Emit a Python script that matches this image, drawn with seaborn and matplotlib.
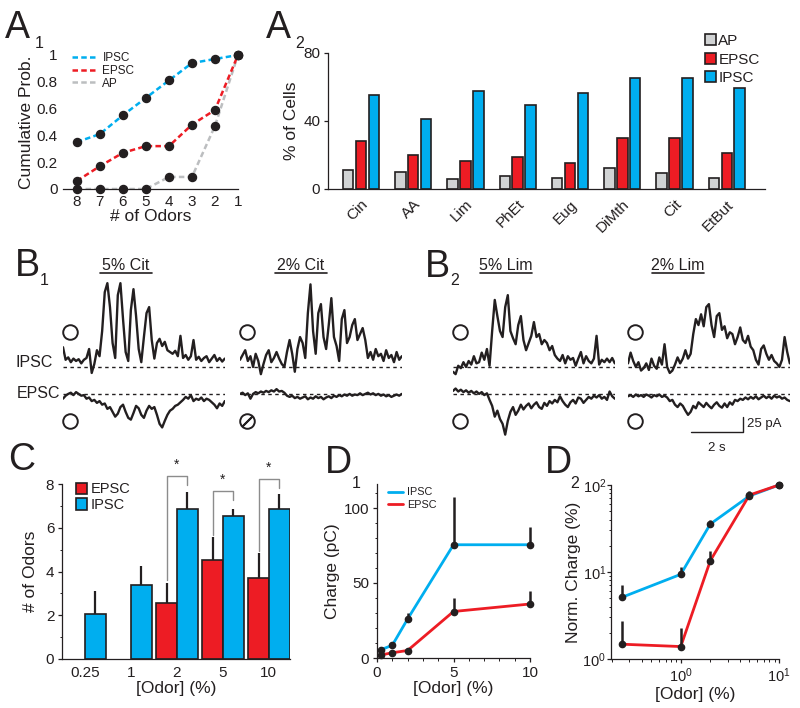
"""
Odor-evoked IPSC / EPSC responses: panels A1-D2.
"""
import numpy as np
import pandas as pd
import matplotlib
matplotlib.use("Agg")
import matplotlib.pyplot as plt
from matplotlib.patches import Patch
from matplotlib.lines import Line2D
from matplotlib.ticker import MultipleLocator, NullFormatter
import seaborn as sns

# ── Colours ────────────────────────────────────────────────────────────────
INK = "#231F20"
C_IPSC = "#00AEEF"
C_EPSC = "#ED1C24"
C_AP = "#D1D3D4"
C_AP_LINE = "#BCBEC0"
C_BRACKET = "#8C8C8C"

# ── A1: cumulative probability vs # of odors ───────────────────────────────
n_odors = [8, 7, 6, 5, 4, 3, 2, 1]
cum_ipsc = [0.35, 0.41, 0.55, 0.68, 0.81, 0.94, 0.97, 1.0]
cum_epsc = [0.06, 0.17, 0.27, 0.32, 0.32, 0.48, 0.59, 1.0]
cum_ap = [0.0, 0.0, 0.0, 0.0, 0.09, 0.09, 0.47, 1.0]

# ── A2: % of responding cells per odor ─────────────────────────────────────
odors = ["Cin", "AA", "Lim", "PhEt", "Eug", "DiMth", "Cit", "EtBut"]
pct_ap = [11, 9.8, 6.1, 7.5, 6.5, 12.2, 9.2, 6.5]
pct_epsc = [28.4, 20.2, 16.7, 19, 15.1, 29.8, 29.8, 21.2]
pct_ipsc = [55, 41.2, 57.5, 49.2, 56.3, 65.1, 65.1, 59.2]

# ── B: example traces (pA, one value every 0.1 s) ──────────────────────────
TRACE_DT = 0.1
cit5_ipsc = [33, 12, 16, 8, 14, 10, 13, 6, 12, 15, 30, -10, 5, 28, 18, 60,
             125, 140, 100, 40, 15, 120, 140, 80, 25, 10, 95, 130, 85, 30, 8,
             50, 90, 100, 45, 14, 40, 47, 35, 42, 28, 25, 22, 27, 18, 52, 15,
             20, 12, 18, 45, 12, 17, 10, 15, 18, 8, 14, 20, 10, 15, 9, 14]
cit5_epsc = [-8, -3, 0, 2, -2, 3, 0, -3, -2, -8, -6, -12, -10, -15, -12, -18,
             -16, -25, -22, -30, -38, -33, -22, -18, -30, -40, -43, -32, -20,
             -24, -35, -40, -28, -20, -25, -22, -35, -50, -56, -45, -35, -28,
             -25, -20, -18, -14, -10, -5, -8, -2, -12, -8, -10, -6, -12, -8,
             -10, -14, -18, -24, -16, -20, -12]
cit2_ipsc = [12, 20, 28, 10, 18, 0, 22, 10, -12, 5, 20, 28, 8, 15, 25, 14, 5,
             0, 25, 45, 22, -8, 30, 50, 40, 15, 90, 138, 60, 22, 90, 105, 50,
             30, 70, 115, 50, 35, 10, 80, 95, 40, 50, 70, 80, 45, 55, 65, 45,
             15, 25, 12, 30, 18, 22, 10, 28, 15, 20, 8, 25, 12, 18]
cit2_epsc = [0, 2, -2, 1, -8, 0, 3, 1, 4, 2, 5, 3, 6, 4, 8, 4, 5, 2, -3, -5,
             -3, -7, -5, -8, -6, -4, -9, -6, -8, -4, -7, -5, -9, -6, -4, -7,
             -3, -5, -2, -4, -1, -3, 0, -3, -1, -2, 1, -2, 0, 2, -1, 1, -2, 0,
             -3, -1, -4, -2, -5, -3, -1, -3, 0]
lim5_ipsc = [-8, -12, 2, -2, 8, 0, 10, 4, 18, 6, 8, 24, 12, 30, 2, 60, 112,
             85, 60, 50, 100, 120, 60, 48, 38, 70, 85, 45, 28, 40, 52, 75, 50,
             55, 38, 45, 40, 28, 35, 20, 14, 10, 20, 6, 18, 12, 15, 2, 14, 25,
             6, 18, 10, 6, 14, 52, 4, 12, 8, 14, 8, 15, 6]
lim5_epsc = [5, 9, 4, 7, 3, 6, 2, 5, 1, 4, 0, 3, -2, 1, -10, -20, -38, -28,
             -42, -50, -68, -45, -30, -22, -35, -28, -18, -26, -20, -16, -24,
             -18, -14, -22, -25, -15, -20, -12, -16, -10, -14, -4, -12, -18,
             -22, -14, -10, -16, -6, -8, -15, -10, -5, -8, -3, -6, -2, -8, -5,
             -10, 4, -4, -8]
lim2_ipsc = [6, 24, 10, 0, 8, -6, -2, 6, -5, 14, 2, -3, 16, 4, 38, 0, -10, -6,
             4, 16, 6, 14, 28, 14, 22, 55, 80, 70, 88, 68, 100, 105, 70, 50,
             85, 90, 62, 68, 48, 58, 55, 38, 50, 66, 45, 40, 52, 34, 28, 12, 4,
             30, 36, 22, 12, 20, 10, 6, 0, 12, 50, 25, 6]
lim2_epsc = [-4, -2, -5, -1, -4, -2, -5, -1, -3, -6, -2, -4, -1, -5, -3, -6,
             -12, -10, -18, -22, -16, -20, -28, -35, -30, -20, -24, -14, -18,
             -22, -15, -20, -24, -18, -14, -20, -23, -16, -22, -14, -18, -10,
             -12, -8, -10, -6, -9, -5, -8, -4, -9, -6, -3, -7, -4, -8, -3, -6,
             -4, -8, -6, -10, -12]

# ── C: # of odors evoking a response vs concentration ─────────────────────
conc_labels = ["0.25", "1", "2", "5", "10"]
c_epsc = [np.nan, np.nan, 2.55, 4.53, 3.72]
c_epsc_err = [np.nan, np.nan, 0.92, 1.03, 1.12]
c_ipsc = [2.05, 3.37, 6.87, 6.52, 6.87]
c_ipsc_err = [1.06, 0.86, 0.76, 0.33, 0.67]

# ── D: charge vs concentration ─────────────────────────────────────────────
conc = [0.25, 1, 2, 5, 10]
d1_ipsc = [5.5, 8.5, 26, 75.5, 75.5]
d1_ipsc_err = [1.5, 2.5, 4.2, 32, 12]
d1_epsc = [2, 3.5, 5, 31, 36]
d1_epsc_err = [1, 1.5, 1.5, 9, 9]
d2_ipsc = [5.1, 9.4, 35.6, 74.8, 100]
d2_ipsc_err = [2.0, 1.9, 4.1, 8, 0]
d2_epsc = [1.48, 1.39, 13.5, 76.7, 100]
d2_epsc_err = [1.28, 0.86, 3.9, 8.3, 0]

# ── Style ──────────────────────────────────────────────────────────────────
sns.set_theme(style="ticks")
plt.rcParams["font.family"] = ["Liberation Sans", "DejaVu Sans"]
plt.rcParams.update({
    "axes.edgecolor": INK, "axes.linewidth": 0.9, "axes.labelcolor": INK,
    "text.color": INK, "xtick.color": INK, "ytick.color": INK,
    "xtick.labelsize": 11, "ytick.labelsize": 11, "axes.labelsize": 12.5,
    "xtick.major.size": 3, "ytick.major.size": 3,
    "xtick.minor.size": 1.8, "ytick.minor.size": 1.8,
    "xtick.major.width": 0.9, "ytick.major.width": 0.9,
    "xtick.minor.width": 0.7, "ytick.minor.width": 0.7,
    "xtick.major.pad": 2.5, "ytick.major.pad": 2.5,
    "legend.frameon": False,
})

W, H = 800, 708
fig = plt.figure(figsize=(W / 100, H / 100), dpi=100)


def px_axes(left, top, right, bottom):
    return fig.add_axes([left / W, 1 - bottom / H, (right - left) / W, (bottom - top) / H])


def panel_label(x, y, letter, sub=None, sub_xy=None):
    fig.text(x / W, 1 - y / H, letter, fontsize=27, va="baseline")
    if sub:
        fig.text(sub_xy[0] / W, 1 - sub_xy[1] / H, sub, fontsize=11.5, va="baseline")


# ── A1 ─────────────────────────────────────────────────────────────────────
ax = px_axes(63, 55, 238, 189)
for vals, col in [(cum_ap, C_AP_LINE), (cum_epsc, C_EPSC), (cum_ipsc, C_IPSC)]:
    ax.plot(n_odors, vals, color=col, lw=1.8, ls=(0, (2.2, 1.3)), zorder=2)
    ax.plot(n_odors, vals, ls="none", marker="o", ms=5.8, color=INK, zorder=3, clip_on=False)
ax.set_xlim(8.6, 1)
ax.set_ylim(0, 1)
ax.set_xticks(n_odors)
ax.set_yticks([0, 0.2, 0.4, 0.6, 0.8, 1.0])
ax.set_yticklabels(["0", "0.2", "0.4", "0.6", "0.8", "1"])
ax.tick_params(length=0, pad=4)
ax.set_xlabel("# of Odors", labelpad=0)
ax.set_ylabel("Cumulative Prob.", labelpad=2)
sns.despine(ax=ax, left=True)
handles = [Line2D([], [], color=c, lw=1.8, ls=(0, (2.2, 1.3))) for c in (C_IPSC, C_EPSC, C_AP_LINE)]
ax.legend(handles, ["IPSC", "EPSC", "AP"], loc="upper left", bbox_to_anchor=(0.05, 1.02),
          fontsize=8.5, handlelength=2.2, handletextpad=0.4, labelspacing=0.05,
          borderpad=0, borderaxespad=0)

# ── A2 ─────────────────────────────────────────────────────────────────────
ax = px_axes(328, 53, 765, 189)
df_a2 = pd.DataFrame({
    "odor": odors * 3,
    "type": ["AP"] * len(odors) + ["EPSC"] * len(odors) + ["IPSC"] * len(odors),
    "pct": pct_ap + pct_epsc + pct_ipsc,
})
palette = {"AP": C_AP, "EPSC": C_EPSC, "IPSC": C_IPSC}
sns.barplot(data=df_a2, x="odor", y="pct", hue="type", hue_order=["AP", "EPSC", "IPSC"],
            order=odors, palette=palette, saturation=1, width=0.74, gap=0.18,
            edgecolor=INK, linewidth=1.2, errorbar=None, legend=False, ax=ax)
ax.set_xlim(-0.63, 7.73)
ax.set_ylim(0, 80)
ax.set_yticks([0, 40, 80])
ax.set_xlabel("")
ax.set_ylabel("% of Cells", labelpad=3)
ax.set_xticks(range(len(odors)))
ax.set_xticklabels(odors, rotation=45, ha="right", rotation_mode="anchor")
ax.tick_params(axis="x", length=0, pad=6)
sns.despine(ax=ax)
ax.legend([Patch(facecolor=palette[k], edgecolor=INK, lw=1.2) for k in palette], list(palette),
          loc="upper left", bbox_to_anchor=(0.862, 1.14), fontsize=11,
          handlelength=0.75, handleheight=0.75, handletextpad=0.15,
          labelspacing=0.3, borderpad=0, borderaxespad=0)

# ── B: traces ──────────────────────────────────────────────────────────────
EPSC_SHIFT = -45
PX_PER_S = 26.1
trace_panels = [
    (63, cit5_ipsc, cit5_epsc, 1.42, "5% Cit", False),
    (240, cit2_ipsc, cit2_epsc, 1.34, "2% Cit", True),
    (453, lim5_ipsc, lim5_epsc, 1.03, "5% Lim", False),
    (628, lim2_ipsc, lim2_epsc, 0.92, "2% Lim", False),
]
trace_axes = []
for left, ipsc, epsc, onset, label, no_epsc in trace_panels:
    ax = px_axes(left, 270, left + 6.2 * PX_PER_S, 440)
    ax.set_xlim(0, 6.2)
    ax.set_ylim(-122, 162)
    ax.axis("off")
    ax.axhline(0, color=INK, lw=1.0, ls=(0, (2.5, 2.5)), zorder=1)
    ax.axhline(EPSC_SHIFT, color=INK, lw=1.0, ls=(0, (2.5, 2.5)), zorder=1)
    t_i = np.arange(len(ipsc)) * TRACE_DT
    t_e = np.arange(len(epsc)) * TRACE_DT
    ax.plot(t_i, ipsc, color=INK, lw=1.7, zorder=2)
    ax.plot(t_e, np.array(epsc) + EPSC_SHIFT, color=INK, lw=1.7, zorder=2)
    # odor application bar
    ax.plot([onset, onset + 2.0], [157, 157], color=INK, lw=1.2, clip_on=False)
    ax.text(onset + 1.0, 162, label, ha="center", va="baseline", fontsize=11.5)
    # response markers
    ax.plot(0.27, 58, marker="o", ms=10.5, mfc="none", mec=INK, mew=1.4, clip_on=False)
    ax.plot(0.27, -90, marker="o", ms=10.5, mfc="none", mec=INK, mew=1.4, clip_on=False)
    if no_epsc:
        ax.plot(0.27, -90, marker=(2, 2, -45), ms=10.5, mec=INK, mew=1.4, clip_on=False)
    trace_axes.append(ax)

ax = trace_axes[0]
ax.text(-0.38, 8, "IPSC", ha="right", va="center", fontsize=11.5)
ax.text(-0.12, -45, "EPSC", ha="right", va="center", fontsize=11.5)

# scale bar: 2 s / 25 pA
ax = trace_axes[3]
ax.plot([2.41, 4.41, 4.41], [-108, -108, -83], color=INK, lw=1.0, clip_on=False)
ax.text(4.55, -95, "25 pA", ha="left", va="center", fontsize=9.5)
ax.text(3.41, -141, "2 s", ha="center", va="baseline", fontsize=9.5)

# ── C ──────────────────────────────────────────────────────────────────────
ax = px_axes(62, 484, 290, 659)
df_c = pd.DataFrame({
    "conc": conc_labels * 2,
    "type": ["EPSC"] * len(conc_labels) + ["IPSC"] * len(conc_labels),
    "n": c_epsc + c_ipsc,
})
sns.barplot(data=df_c, x="conc", y="n", hue="type", hue_order=["EPSC", "IPSC"],
            order=conc_labels, palette={"EPSC": C_EPSC, "IPSC": C_IPSC}, saturation=1,
            width=0.9, gap=0, edgecolor=INK, linewidth=1.2, errorbar=None,
            legend=False, ax=ax)
errs = {"EPSC": c_epsc_err, "IPSC": c_ipsc_err}
centers = {}
for hue, cont in zip(["EPSC", "IPSC"], ax.containers):
    for bar in cont:
        h = bar.get_height()
        if not np.isfinite(h) or h == 0:
            continue
        xc = bar.get_x() + bar.get_width() / 2
        k = int(round(xc))
        centers[(hue, k)] = xc
        e = errs[hue][k]
        if np.isfinite(e):
            ax.vlines(xc, h, h + e, color=INK, lw=1.6, zorder=1)
# significance brackets (top, left-leg bottom, right-leg bottom)
brackets = {2: (8.38, 3.6, 7.97), 3: (7.66, 5.65, 7.28), 4: (8.24, 4.95, 7.8)}
for k, (top, lb, rb) in brackets.items():
    xl, xr = centers[("EPSC", k)], centers[("IPSC", k)]
    ax.plot([xl, xl, xr, xr], [lb, top, top, rb], color=C_BRACKET, lw=1.0, clip_on=False)
    ax.text((xl + xr) / 2, top + 0.2, "*", ha="center", va="bottom", fontsize=10)
ax.set_xlim(-0.5, 4.46)
ax.set_ylim(0, 8)
ax.set_yticks([0, 2, 4, 6, 8])
ax.yaxis.set_minor_locator(MultipleLocator(1))
ax.tick_params(axis="x", length=0, pad=5)
ax.set_xlabel("[Odor] (%)", labelpad=1)
ax.set_ylabel("# of Odors", labelpad=6)
sns.despine(ax=ax)
ax.legend([Patch(facecolor=C_EPSC, edgecolor=INK, lw=1.2),
           Patch(facecolor=C_IPSC, edgecolor=INK, lw=1.2)], ["EPSC", "IPSC"],
          loc="upper left", bbox_to_anchor=(0.06, 1.01), fontsize=10.5,
          handlelength=0.8, handleheight=0.8, handletextpad=0.25,
          labelspacing=0.12, borderpad=0, borderaxespad=0)


def charge_lines(ax, ipsc, ipsc_err, epsc, epsc_err):
    for vals, err, col in [(ipsc, ipsc_err, C_IPSC), (epsc, epsc_err, C_EPSC)]:
        vals = np.array(vals)
        ax.plot(conc, vals, color=col, lw=2, zorder=2, clip_on=False)
        ax.vlines(conc, vals, vals + np.array(err), color=INK, lw=1.8, zorder=3, clip_on=False)
        ax.plot(conc, vals, ls="none", marker="o", ms=4.5, color=INK, zorder=4, clip_on=False)


# ── D1 ─────────────────────────────────────────────────────────────────────
ax = px_axes(377, 484, 530, 658)
charge_lines(ax, d1_ipsc, d1_ipsc_err, d1_epsc, d1_epsc_err)
ax.set_xlim(0, 10)
ax.set_ylim(0, 116)
ax.set_xticks([0, 5, 10])
ax.set_yticks([0, 50, 100])
ax.xaxis.set_minor_locator(MultipleLocator(1))
ax.yaxis.set_minor_locator(MultipleLocator(10))
ax.set_xlabel("[Odor] (%)", labelpad=1)
ax.set_ylabel("Charge (pC)", labelpad=3)
sns.despine(ax=ax)
ax.legend([Line2D([], [], color=C_IPSC, lw=2), Line2D([], [], color=C_EPSC, lw=2)],
          ["IPSC", "EPSC"], loc="upper left", bbox_to_anchor=(0.07, 0.98), fontsize=7.8,
          handlelength=1.4, handletextpad=0.4, labelspacing=0.25, borderpad=0,
          borderaxespad=0)

# ── D2 ─────────────────────────────────────────────────────────────────────
ax = px_axes(611, 485, 779, 659)
ax.set_xscale("log")
ax.set_yscale("log")
charge_lines(ax, d2_ipsc, d2_ipsc_err, d2_epsc, d2_epsc_err)
ax.set_xlim(0.195, 10)
ax.set_ylim(1, 100)
ax.xaxis.set_minor_formatter(NullFormatter())
ax.yaxis.set_minor_formatter(NullFormatter())
ax.tick_params(axis="y", which="major", pad=0.5, labelsize=10.5)
ax.tick_params(axis="x", which="major", labelsize=10.5)
ax.set_xlabel("[Odor] (%)", labelpad=1)
ax.set_ylabel("Norm. Charge (%)", labelpad=1)
sns.despine(ax=ax)

# ── Panel letters ──────────────────────────────────────────────────────────
panel_label(5, 38, "A", "1", (35, 48))
panel_label(266, 38, "A", "2", (295, 48))
panel_label(15, 276, "B", "1", (40, 285))
panel_label(425, 277, "B", "2", (450, 285))
panel_label(8, 470, "C")
panel_label(325, 473, "D", "1", (352, 488))
panel_label(545, 473, "D", "2", (570, 488))

fig.savefig("out.png", dpi=100)
